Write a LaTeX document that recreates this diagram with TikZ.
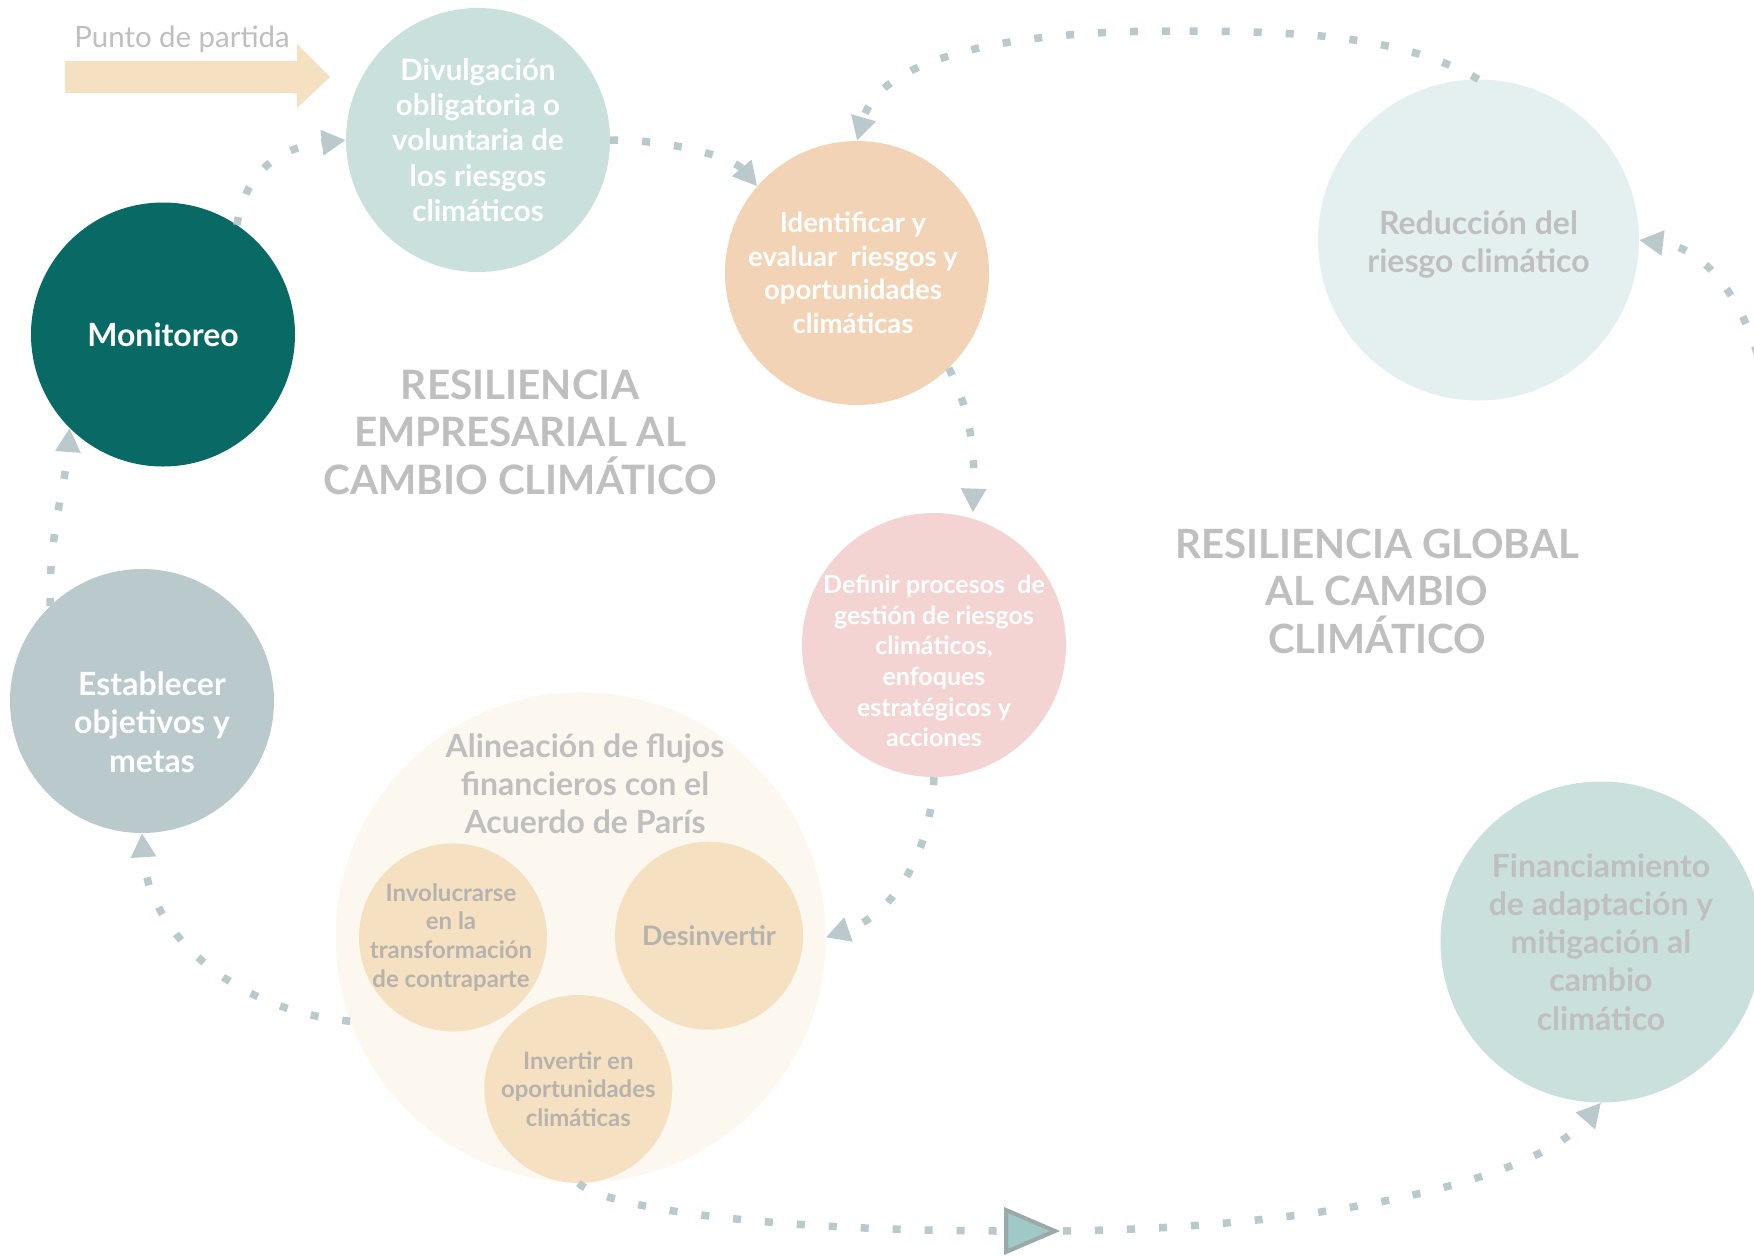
\documentclass[tikz,border=0pt]{standalone}
\usepackage{fontspec}
\setmainfont{Lato}
\usetikzlibrary{arrows.meta}
\definecolor{cdiv}{HTML}{C9E0DD}
\definecolor{cmon}{HTML}{096964}
\definecolor{cide}{HTML}{F3D3B5}
\definecolor{cred}{HTML}{E4F0EF}
\definecolor{cdef}{HTML}{F4D4D3}
\definecolor{cest}{HTML}{BAC9CB}
\definecolor{cali}{HTML}{FDF8EF}
\definecolor{csmall}{HTML}{F5E1C2}
\definecolor{cfin}{HTML}{C9E0DD}
\definecolor{cgray}{HTML}{BFBFBF}
\definecolor{cgraydk}{HTML}{B6B2AD}
\definecolor{cline}{HTML}{BAC9CB}
\definecolor{ctrifill}{HTML}{9FC8C6}
\definecolor{ctridraw}{HTML}{9BA9A8}
\definecolor{carrow}{HTML}{F5E1C2}
\newcommand\myfs[2]{\fontsize{#1}{#2}\selectfont}
\begin{document}
\begin{tikzpicture}[x=1pt,y=-1pt,
  bub/.style={circle, inner sep=0pt, minimum size=264pt, align=center},
  bigbub/.style={circle, inner sep=0pt, minimum size=321pt, align=center},
  smallbub/.style={circle, inner sep=0pt, minimum size=188pt, fill=csmall},
  whitetxt/.style={text=white},
  graytxt/.style={text=cgray},
  lbl/.style={align=center, inner sep=0pt},
  smalltxt/.style={lbl, text=cgraydk},
  conn/.style={draw=cline, line width=7.5pt, dash pattern=on 8pt off 24pt},
  connarr/.style={conn, -{Triangle[length=24pt,width=24pt]}},
  ]
\useasboundingbox (0,0) rectangle (1754,1256);
\fill[white] (0,0) rectangle (1754,1256);
\clip (0,0) rectangle (1754,1256);

% starting arrow
\fill[carrow] (65,61) -- (297,61) -- (297,44) -- (330,77) -- (297,108) -- (297,93) -- (65,93) -- cycle;
\node[anchor=base, text=cgray, inner sep=0pt, font=\myfs{29.4}{36}] (punto) at (182,47) {Punto de partida};

% titles
\node[lbl, graytxt, font=\bfseries\myfs{40.5}{47.5}] (tit1) at (520,432)
  {RESILIENCIA\\EMPRESARIAL AL\\CAMBIO CLIMÁTICO};
\node[lbl, graytxt, font=\bfseries\myfs{40.3}{47.5}] (tit2) at (1377,591)
  {RESILIENCIA GLOBAL\\AL CAMBIO\\CLIMÁTICO};

% circles
\node[bub, fill=cdiv] (div) at (478,140) {};
\node[lbl, whitetxt, font=\bfseries\myfs{29.5}{35.2}] (divT) at (478,140)
  {Divulgación\\obligatoria o\\voluntaria de\\los riesgos\\climáticos};
\node[bub, fill=cmon] (mon) at (163,334.5) {};
\node[lbl, whitetxt, font=\bfseries\myfs{32}{36}] (monT) at (163,335) {Monitoreo};
\node[bub, fill=cide] (ide) at (857,273) {};
\node[lbl, whitetxt, font=\bfseries\myfs{27.5}{33.5}] (ideT) at (853,273)
  {Identificar y\\evaluar\ \ riesgos y\\oportunidades\\climáticas};
\node[bigbub, fill=cred] (red) at (1478.5,240) {};
\node[lbl, graytxt, font=\bfseries\myfs{32}{38.5}] (redT) at (1478.5,244.5)
  {Reducción del\\riesgo climático};
\node[bub, fill=cdef] (def) at (934,645) {};
\node[lbl, whitetxt, font=\bfseries\myfs{25}{30.6}] (defT) at (934,661)
  {Definir procesos\ \ de\\gestión de riesgos\\climáticos,\\enfoques\\estratégicos y\\acciones};
\node[bub, fill=cest] (est) at (142,701) {};
\node[lbl, whitetxt, font=\bfseries\myfs{32}{38.6}] (estT) at (152,722)
  {Establecer\\objetivos y\\metas};
\node[circle, inner sep=0pt, minimum size=490pt, fill=cali] (ali) at (580.6,937.4) {};
\node[lbl, graytxt, font=\bfseries\myfs{32}{38}] (aliT) at (585,784)
  {Alineación de flujos\\financieros con el\\Acuerdo de París};
\node[smallbub] (inv) at (453,937.4) {};
\node[smalltxt, font=\bfseries\myfs{24}{28.7}] (invT) at (451,937.4)
  {Involucrarse\\en la\\transformación\\de contraparte};
\node[smallbub] (des) at (709,935.7) {};
\node[smalltxt, font=\bfseries\myfs{26.9}{30}] (desT) at (709,935.7) {Desinvertir};
\node[smallbub] (ivt) at (578.3,1089) {};
\node[smalltxt, font=\bfseries\myfs{23.9}{28.5}] (ivtT) at (578.3,1089)
  {Invertir en\\oportunidades\\climáticas};
\node[bigbub, fill=cfin] (fin) at (1601,942) {};
\node[lbl, graytxt, font=\bfseries\myfs{32}{38.2}] (finT) at (1601,942)
  {Financiamiento\\de adaptación y\\mitigación al\\cambio\\climático};

% connectors
\coordinate (rin) at (1775,480);
\coordinate (trimark) at (1031,1231);
\draw[connarr] (mon.56) .. controls (245,175) and (275,148) .. (div.west);
\draw[connarr] (div.east) .. controls (680,140) and (735,160) .. (ide.139);
\draw[conn] (red.north) .. controls (1400,35) and (1300,31) .. (1170,31);
\draw[connarr] (1170,31) .. controls (1000,31) and (880,60) .. (ide.north);
\draw[connarr] (rin) .. controls (1775,340) and (1720,250) .. (red.east);
\draw[connarr, shorten >=6pt] (ide.-46) .. controls (970,410) and (975,450) .. (def.73);
\draw[connarr] (def.south) .. controls (930,860) and (890,915) .. (ali.east);
\draw[connarr] (ali.200) .. controls (230,1010) and (148,930) .. (est.south);
\draw[connarr] (est.134) .. controls (48,540) and (66,480) .. (mon.225);
\draw[conn] (ivt.south) .. controls (610,1210) and (780,1232) .. (trimark);
\draw[connarr] (trimark) .. controls (1300,1232) and (1530,1185) .. (fin.south);

% mid triangle
\filldraw[fill=ctrifill, draw=ctridraw, line width=4pt, line join=miter]
  ([shift={(-25,-21)}]trimark) -- ([shift={(24,0)}]trimark) -- ([shift={(-25,21)}]trimark) -- cycle;
\end{tikzpicture}
\end{document}
